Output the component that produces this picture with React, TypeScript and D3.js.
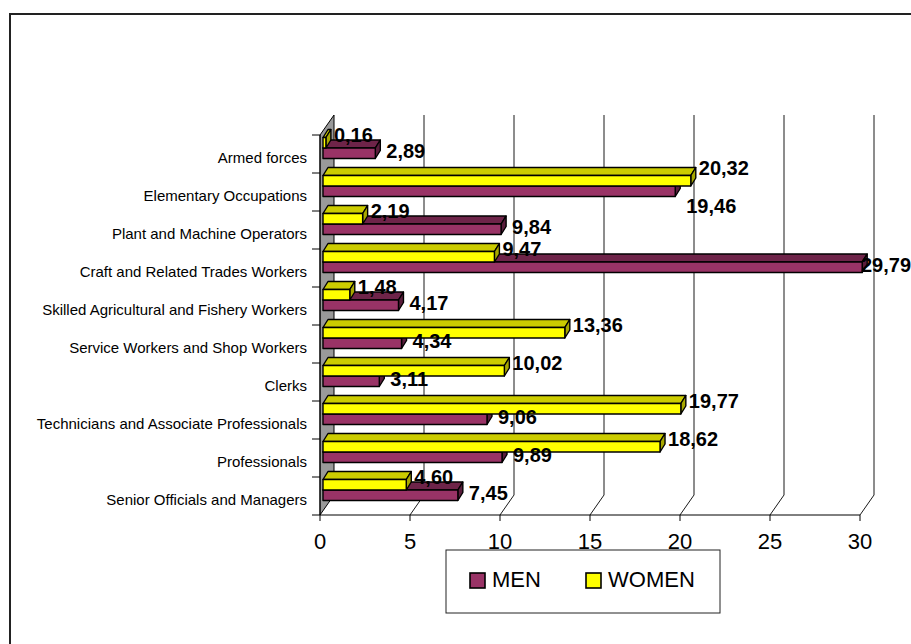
import React from 'react';
import * as d3 from 'd3';

const categories = [
  'Armed forces',
  'Elementary Occupations',
  'Plant and Machine Operators',
  'Craft and Related Trades Workers',
  'Skilled Agricultural and Fishery Workers',
  'Service Workers and Shop Workers',
  'Clerks',
  'Technicians and Associate Professionals',
  'Professionals',
  'Senior Officials and Managers',
];
const menValues = [2.89, 19.46, 9.84, 29.79, 4.17, 4.34, 3.11, 9.06, 9.89, 7.45];
const womenValues = [0.16, 20.32, 2.19, 9.47, 1.48, 13.36, 10.02, 19.77, 18.62, 4.6];
const axisTicks = [0, 5, 10, 15, 20, 25, 30];
const seriesNames = ['MEN', 'WOMEN'];

const FONT = '"Liberation Sans", Arial, Helvetica, sans-serif';
const colors: Record<string, { front: string; top: string; side: string }> = {
  MEN: { front: '#993366', top: '#6e2449', side: '#5a1d3c' },
  WOMEN: { front: '#ffff00', top: '#cccc00', side: '#a8a800' },
};

const fmt = (v: number) => v.toFixed(2).replace('.', ',');
const labelWidth = (s: string) =>
  s.split('').reduce((a, c) => a + (c === ',' ? 0.278 : 0.556), 0) * 20;

export default function App() {
  const W = 911;
  const H = 644;
  const x = d3.scaleLinear().domain([0, 30]).range([320, 860]);
  const xb = d3.scaleLinear().domain([0, 30]).range([323, 866]);
  const y = d3.scaleBand<string>().domain(categories).range([135, 515]);
  const inner = d3.scaleBand<string>().domain(['WOMEN', 'MEN']).range([2.5, 23.5]);
  const DX = 14;
  const DY = -20;
  const bdx = 5;
  const bdy = -8;
  const floorY = 515;
  const wallTop = 135;

  const bars: any[] = [];
  categories.forEach((c, i) => {
    ['MEN', 'WOMEN'].forEach((s) => {
      const v = s === 'MEN' ? menValues[i] : womenValues[i];
      const yt = (y(c) as number) + (inner(s) as number);
      const yb = yt + inner.bandwidth();
      const x0 = xb(0);
      const x1 = xb(v);
      bars.push({ c, s, v, yt, yb, x0, x1, i });
    });
  });

  const labels: any[] = [];
  categories.forEach((c) => {
    const pair = bars.filter((b) => b.c === c);
    const items = pair.map((b) => {
      const text = fmt(b.v);
      const cy = (b.yt + b.yb) / 2;
      let lx = b.x1 + (b.s === 'WOMEN' ? 8 : 11);
      const w = labelWidth(text);
      if (lx + w > W) lx = W - w;
      return { s: b.s, text, lx, w, cy, ly: cy + (b.s === 'WOMEN' ? -8 : -2), key: b.c + b.s };
    });
    const wl = items.find((d) => d.s === 'WOMEN');
    const ml = items.find((d) => d.s === 'MEN');
    const hOverlap = wl.lx < ml.lx + ml.w && ml.lx < wl.lx + wl.w;
    if (hOverlap && ml.ly - wl.ly < 20) {
      wl.ly = wl.cy - 13;
      ml.ly = ml.cy + 15;
    }
    labels.push(wl, ml);
  });

  return (
    <svg
      width={W}
      height={H}
      style={{ position: 'absolute', left: 0, top: 0, background: '#fff' }}
      fontFamily={FONT}
    >
      <rect x={0} y={0} width={W} height={H} fill="#fff" />
      {/* outer chart frame */}
      <rect x={10} y={14} width={1000} height={1000} fill="none" stroke="#222" strokeWidth={2} />

      {/* back wall gridlines and floor diagonals */}
      {axisTicks.filter((t) => t > 0).map((t) => (
        <g key={'g' + t}>
          <line x1={x(t) + DX} y1={wallTop + DY} x2={x(t) + DX} y2={floorY + DY} stroke="#1a1a1a" strokeWidth={1} />
          <line x1={x(t) + DX} y1={floorY + DY} x2={x(t)} y2={floorY} stroke="#1a1a1a" strokeWidth={1} />
        </g>
      ))}

      {/* left side wall */}
      <polygon
        points={`${x(0)},${wallTop} ${x(0) + DX},${wallTop + DY} ${x(0) + DX},${floorY + DY} ${x(0)},${floorY}`}
        fill="#999999"
        stroke="#000"
        strokeWidth={1}
      />

      {/* floor front edge */}
      <line x1={x(0)} y1={floorY} x2={x(30)} y2={floorY} stroke="#000" strokeWidth={1} />
      {axisTicks.map((t) => (
        <line key={'t' + t} x1={x(t)} y1={floorY} x2={x(t)} y2={floorY + 6} stroke="#000" strokeWidth={1} />
      ))}
      {axisTicks.map((t) => (
        <text key={'tl' + t} x={x(t)} y={549} fontSize={22} textAnchor="middle" fill="#000">
          {t}
        </text>
      ))}

      {/* category axis */}
      <line x1={x(0)} y1={wallTop} x2={x(0)} y2={floorY} stroke="#000" strokeWidth={1} />
      {categories.concat(['__end']).map((c, i) => {
        const yy = i < categories.length ? (y(c) as number) : floorY;
        return <line key={'ct' + i} x1={312} y1={yy} x2={320} y2={yy} stroke="#000" strokeWidth={1} />;
      })}
      {categories.map((c) => (
        <text
          key={'cl' + c}
          x={307}
          y={(y(c) as number) + y.bandwidth() / 2 + 3}
          fontSize={15}
          textAnchor="end"
          dominantBaseline="central"
          fill="#000"
        >
          {c}
        </text>
      ))}

      {/* bars */}
      {bars.map((b) => {
        const col = colors[b.s];
        const { x0, x1, yt, yb } = b;
        return (
          <g key={b.c + b.s} stroke="#000" strokeWidth={1.4} strokeLinejoin="round">
            <polygon
              points={`${x0},${yt} ${x1},${yt} ${x1 + bdx},${yt + bdy} ${x0 + bdx},${yt + bdy}`}
              fill={col.top}
            />
            <polygon
              points={`${x1},${yt} ${x1 + bdx},${yt + bdy} ${x1 + bdx},${yb + bdy} ${x1},${yb}`}
              fill={col.side}
            />
            <rect x={x0} y={yt} width={Math.max(0, x1 - x0)} height={yb - yt} fill={col.front} />
          </g>
        );
      })}

      {/* value labels */}
      {labels.map((l) => (
        <text
          key={'vl' + l.key}
          x={l.lx}
          y={l.ly}
          fontSize={20}
          fontWeight="bold"
          dominantBaseline="central"
          fill="#000"
        >
          {l.text}
        </text>
      ))}

      {/* legend */}
      <rect x={446} y={550} width={274} height={63} fill="#fff" stroke="#222" strokeWidth={1} />
      {seriesNames.map((s, i) => {
        const sx = i === 0 ? 470 : 586;
        return (
          <g key={'lg' + s}>
            <rect x={sx} y={573} width={15} height={15} fill={colors[s].front} stroke="#000" strokeWidth={1.6} />
            <text x={sx + 22} y={587} fontSize={22} fill="#000">
              {s}
            </text>
          </g>
        );
      })}
    </svg>
  );
}
